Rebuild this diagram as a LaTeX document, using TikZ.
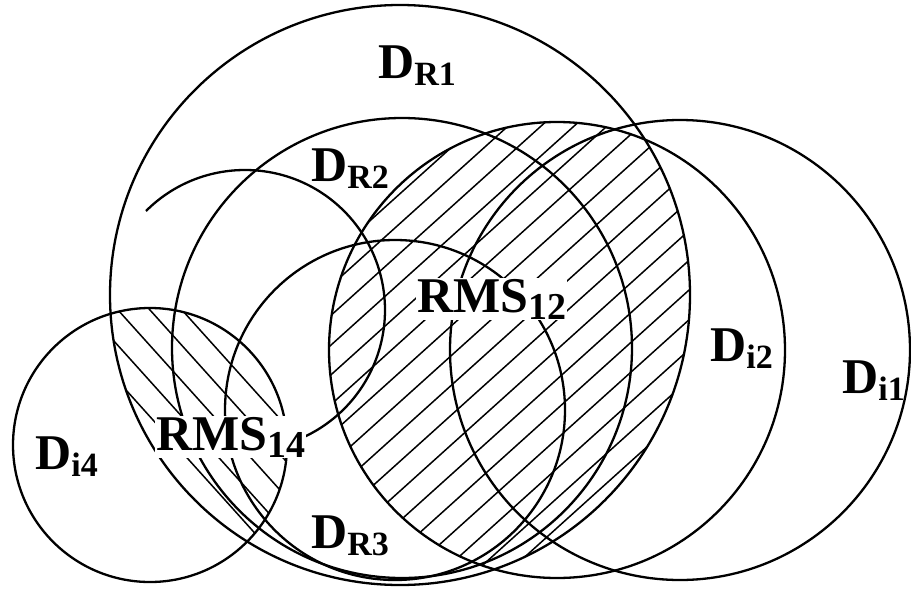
\documentclass[tikz,border=0pt]{standalone}
\usepackage{fontspec}
\setmainfont{Liberation Serif}
\newcommand{\sublbl}[3]{#1\raisebox{-7pt}{\fontsize{#3}{#3}\selectfont #2}}

\begin{document}
\begin{tikzpicture}[x=1pt,y=-1pt,
        ring/.style={line width=2.3pt},
        hatch/.style={line width=1.5pt},
        lbl/.style={inner sep=1pt,font=\fontsize{50}{50}\selectfont\bfseries}]
        \useasboundingbox (0,0) rectangle (911,592);
        \coordinate (R1) at (400,295);
        \coordinate (R2) at (402,348);
        \coordinate (R3) at (395,410);
        \coordinate (I1) at (680,350);
        \coordinate (I2) at (557,350);
        \coordinate (I4) at (150,445);
        \coordinate (S) at (245,310);
        % hatched regions
        \begin{scope}
            \clip (R1) circle[radius=290];
            \clip (I2) circle[radius=228];
            \foreach \k in {-480,-447,...,720}
                \draw[hatch] (\k,600) -- ++(666,-600);
        \end{scope}
        \begin{scope}
            \clip (R1) circle[radius=290];
            \clip (I4) circle[radius=137];
            \foreach \k in {-220,-188,...,320}
                \draw[hatch] (\k,290) -- ++(270,300);
        \end{scope}
        % circles
        \draw[ring] (R1) circle[radius=290];
        \draw[ring] (R2) circle[radius=230];
        \draw[ring] (R3) circle[radius=170];
        \draw[ring] (I1) circle[radius=230];
        \draw[ring] (I2) circle[radius=228];
        \draw[ring] (I4) circle[radius=137];
        \draw[ring] (S) ++(225:140) arc[start angle=225,end angle=425,radius=140];
        % labels
        \node[lbl,anchor=base west] (dr1) at (377,78) {\sublbl{D}{R1}{34}};
        \node[lbl,anchor=base west] (dr2) at (310,181) {\sublbl{D}{R2}{34}};
        \node[lbl,anchor=base west] (dr3) at (310,548) {\sublbl{D}{R3}{34}};
        \node[lbl,anchor=base west] (di1) at (841,393) {\sublbl{D}{i1}{34}};
        \node[lbl,anchor=base west] (di2) at (709,361) {\sublbl{D}{i2}{34}};
        \node[lbl,anchor=base west] (di4) at (34,469) {\sublbl{D}{i4}{34}};
        \node[lbl,fill=white,anchor=base west] (rms12) at (416,312) {\sublbl{RMS}{12}{38}};
        \node[lbl,fill=white,anchor=base west] (rms14) at (155,450) {\sublbl{RMS}{14}{38}};
    \end{tikzpicture}
\end{document}
